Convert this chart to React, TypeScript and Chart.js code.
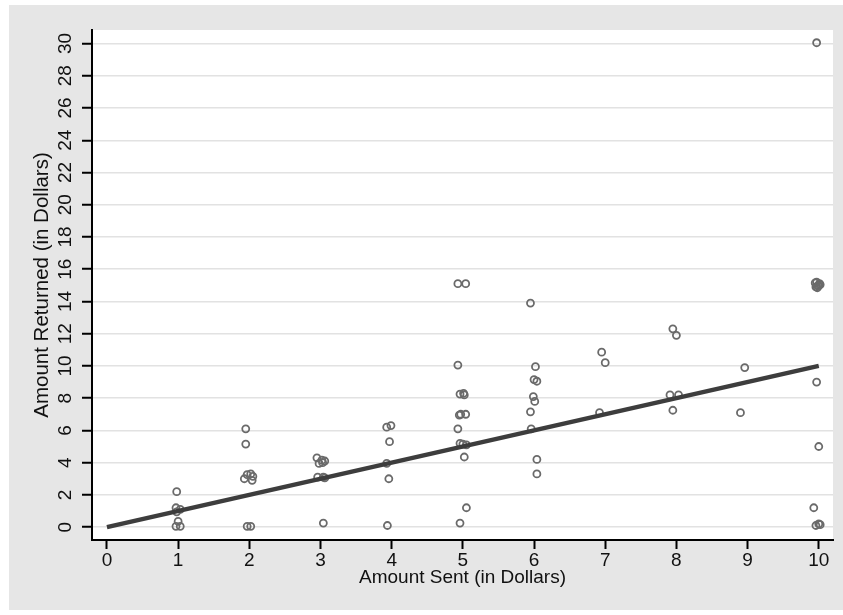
import React, { useEffect, useRef } from "react";
import { Chart, registerables } from "chart.js";

Chart.register(...registerables);

// Amount sent (jittered, as plotted)
const sentX: number[] = [
  0.98, 0.97, 1.03, 0.98, 1.0, 0.97, 1.03,
  1.95, 1.95, 1.97, 2.02, 2.05, 1.93, 2.04, 1.97, 2.02,
  2.95, 3.02, 3.06, 2.98, 3.03, 2.96, 3.04, 3.06, 3.04,
  3.93, 3.99, 3.97, 3.93, 3.96, 3.94,
  4.93, 5.04, 4.93, 4.96, 5.01, 5.02, 4.95, 4.97, 5.04, 4.93, 4.96, 5.0, 5.05, 5.02, 5.05, 4.96,
  5.95, 6.02, 6.0, 6.04, 5.99, 6.01, 5.95, 5.96, 6.04, 6.04,
  6.95, 7.0, 6.92,
  7.95, 8.0, 7.91, 8.03, 7.95,
  8.96, 8.9,
  9.97, 9.95, 9.97, 10.0, 9.96, 10.02, 9.98, 10.01, 9.99, 9.97, 10.0, 9.93, 9.96, 10.0, 10.02,
];

// Amount returned
const returnedY: number[] = [
  2.2, 1.2, 1.1, 0.95, 0.35, 0.05, 0.05,
  6.1, 5.15, 3.25, 3.3, 3.15, 3.0, 2.9, 0.05, 0.05,
  4.3, 4.15, 4.1, 3.95, 4.0, 3.1, 3.1, 3.05, 0.25,
  6.2, 6.3, 5.3, 3.95, 3.0, 0.1,
  15.1, 15.1, 10.05, 8.25, 8.3, 8.2, 6.95, 7.0, 7.0, 6.1, 5.2, 5.15, 5.1, 4.35, 1.2, 0.25,
  13.9, 9.95, 9.15, 9.05, 8.1, 7.8, 7.15, 6.1, 4.2, 3.3,
  10.85, 10.2, 7.1,
  12.3, 11.9, 8.2, 8.2, 7.25,
  9.9, 7.1,
  30.05, 15.15, 15.2, 15.0, 14.9, 15.05, 14.85, 15.1, 14.95, 9.0, 5.0, 1.2, 0.1, 0.2, 0.15,
];

// Fitted line (endpoints)
const fitX: number[] = [0, 10];
const fitY: number[] = [0, 10];

const xTicks: number[] = [0, 1, 2, 3, 4, 5, 6, 7, 8, 9, 10];
const yTicks: number[] = [0, 2, 4, 6, 8, 10, 12, 14, 16, 18, 20, 22, 24, 26, 28, 30];

const xTitle = "Amount Sent (in Dollars)";
const yTitle = "Amount Returned (in Dollars)";

const FONT = "'Liberation Sans', Arial, sans-serif";

const plotBg = {
  id: "plotBg",
  beforeDraw(chart: any) {
    const { ctx, chartArea } = chart;
    if (!chartArea) return;
    ctx.save();
    ctx.fillStyle = "#ffffff";
    ctx.fillRect(chartArea.left, chartArea.top, chartArea.right - chartArea.left, chartArea.bottom - chartArea.top);
    ctx.restore();
  },
};

export default function App() {
  const ref = useRef<HTMLCanvasElement | null>(null);

  useEffect(() => {
    if (!ref.current) return;
    const points = sentX.map((x, i) => ({ x, y: returnedY[i] }));
    const fit = fitX.map((x, i) => ({ x, y: fitY[i] }));
    const chart = new Chart(ref.current, {
      type: "scatter",
      data: {
        datasets: [
          {
            label: "Fitted values",
            data: fit,
            showLine: true,
            borderColor: "#3d3d3d",
            borderWidth: 4.5,
            pointRadius: 0,
            backgroundColor: "transparent",
          } as any,
          {
            label: "Amount Returned",
            data: points,
            pointStyle: "circle",
            pointRadius: 3.5,
            borderWidth: 1.8,
            borderColor: "#6a6a6a",
            backgroundColor: "rgba(0,0,0,0)",
          },
        ],
      },
      options: {
        animation: false,
        responsive: false,
        devicePixelRatio: 1,
        layout: { padding: { left: 0, top: 25, right: 10, bottom: 0 } },
        plugins: {
          legend: { display: false },
          tooltip: { enabled: false },
        },
        scales: {
          x: {
            type: "linear",
            min: -0.21,
            max: 10.2,
            afterBuildTicks: (s: any) => {
              s.ticks = xTicks.map((v) => ({ value: v }));
            },
            afterFit: (s: any) => {
              s.height = 70;
            },
            grid: {
              drawOnChartArea: false,
              drawTicks: true,
              tickLength: 9,
              tickColor: "#000",
              tickWidth: 2,
            },
            border: { display: true, color: "#000", width: 2 },
            ticks: {
              color: "#111",
              font: { family: FONT, size: 19 },
              padding: 0,
              maxRotation: 0,
              minRotation: 0,
              autoSkip: false,
            },
            title: {
              display: true,
              text: xTitle,
              color: "#111",
              font: { family: FONT, size: 19 },
              padding: { top: 0, bottom: 21 },
            },
          },
          y: {
            type: "linear",
            min: -0.8,
            max: 30.84,
            afterBuildTicks: (s: any) => {
              s.ticks = yTicks.map((v) => ({ value: v }));
            },
            afterFit: (s: any) => {
              s.width = 83;
            },
            grid: {
              color: "#e2e2e2",
              lineWidth: 1.5,
              drawTicks: true,
              tickLength: 10,
              tickColor: "#000",
              tickWidth: 2,
            },
            border: { display: true, color: "#000", width: 2 },
            ticks: {
              color: "#111",
              font: { family: FONT, size: 19 },
              padding: 6,
              minRotation: 90,
              maxRotation: 90,
              crossAlign: "center",
              autoSkip: false,
            },
            title: {
              display: true,
              text: yTitle,
              color: "#111",
              font: { family: FONT, size: 20.5 },
              padding: { top: 21, bottom: 0 },
            },
          },
        },
      },
      plugins: [plotBg],
    });
    return () => chart.destroy();
  }, []);

  return (
    <div style={{ position: "absolute", left: 0, top: 0, width: 843, height: 615, background: "#ffffff" }}>
      <canvas
        ref={ref}
        width={834}
        height={605}
        style={{ position: "absolute", left: 9, top: 5, width: 834, height: 605, background: "#e6e6e6" }}
      />
    </div>
  );
}
